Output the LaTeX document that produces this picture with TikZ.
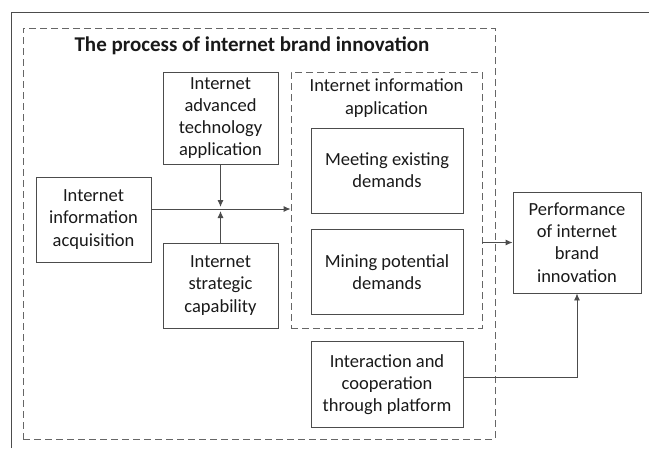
\documentclass[tikz,border=0pt]{standalone}
\usepackage{fontspec}
\setmainfont{Carlito}
\usetikzlibrary{positioning,arrows.meta}

\begin{document}
\begin{tikzpicture}[x=1pt, y=-1pt,
						block/.style={rectangle, draw=black!70, line width=0.9pt, align=center, inner sep=0pt, text=black!90},
						small/.style={block, minimum width=115pt, minimum height=85pt},
						wide/.style={block, minimum width=152pt, minimum height=85pt},
						group/.style={rectangle, draw=black!60, line width=0.9pt, dash pattern=on 7pt off 4pt, inner sep=0pt},
						label/.style={rectangle, align=center, inner sep=0pt, text=black!90},
						>={Latex[length=7pt,width=6pt]},
						font=\fontsize{18.5}{22.2}\selectfont
					]
					\useasboundingbox (0,0) rectangle (649,448);
					\draw[black!70, line width=0.9pt] (11,448) -- (11,12.7) -- (649,12.7);
					\node[group, minimum width=472pt, minimum height=411pt] (process) at (259,233.5) {};
					\node[label, font=\fontsize{21}{25}\selectfont\bfseries] (title) at (252,46) {The process of internet brand innovation};
					\node[block, minimum width=115pt, minimum height=92pt] (tech) at (220.5,118) {Internet\\advanced\\technology\\application};
					\node[small] (acq) at (93.5,219.5) {Internet\\information\\acquisition};
					\node[small] (strat) at (220.5,285.5) {Internet\\strategic\\capability};
					\node[group, minimum width=191pt, minimum height=256pt] (appl) at (386.5,200) {};
					\node[label] (appltext) at (386.5,98) {Internet information\\application};
					\node[wide] (meet) at (387,170.5) {Meeting existing\\demands};
					\node[wide] (mine) [below=16pt of meet] {Mining potential\\demands};
					\node[wide, minimum height=86pt] (inter) [below=26pt of mine] {Interaction and\\cooperation\\through platform};
					\node[block, minimum width=128pt, minimum height=101pt] (perf) at (577,242.5) {Performance\\of internet\\brand\\innovation};
					\coordinate (join) at (220.5,209);
					\begin{scope}[black!70, line width=0.9pt]
					\draw[->] (acq.east |- join) -- (appl.west |- join);
					\draw[->] (tech.south) -- ([yshift=2pt]join);
					\draw[->] (strat.north) -- ([yshift=-2pt]join);
					\draw[->] (appl.east |- perf.west) -- (perf.west);
					\draw[->] ([yshift=7pt]inter.east) -| (perf.south);
					\end{scope}
					\end{tikzpicture}
\end{document}
